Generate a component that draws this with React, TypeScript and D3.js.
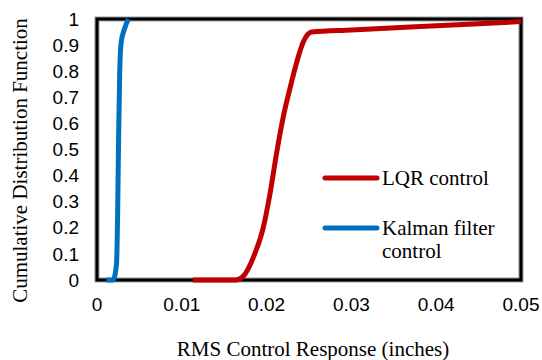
import React, { useEffect, useRef } from 'react';
import * as d3 from 'd3';

// RMS control response (inches) vs cumulative probability
const lqrX = [0.0113, 0.0163, 0.0172, 0.0186, 0.0196, 0.0204, 0.0212, 0.022, 0.0228, 0.0236, 0.0243, 0.0253, 0.03, 0.04, 0.05];
const lqrY = [0, 0, 0.013, 0.1, 0.2, 0.33, 0.49, 0.63, 0.74, 0.84, 0.91, 0.95, 0.958, 0.974, 0.99];

const kalmanX = [0.0011, 0.0019, 0.0023, 0.00244, 0.00255, 0.00268, 0.00285, 0.00322, 0.0037];
const kalmanY = [0, 0, 0.06, 0.27, 0.55, 0.8, 0.91, 0.96, 1.0];

const xTicks = [0, 0.01, 0.02, 0.03, 0.04, 0.05];
const yTicks = [0, 0.1, 0.2, 0.3, 0.4, 0.5, 0.6, 0.7, 0.8, 0.9, 1];

const seriesNames = ['LQR control', 'Kalman filter control'];
const seriesColors = ['#c00000', '#0070c0'];

const width = 542;
const height = 360;
const sans = 'Liberation Sans';
const serif = 'Liberation Serif';

const CdfChart: React.FC = () => {
    const svgRef = useRef<SVGSVGElement | null>(null);

    useEffect(() => {
        const svg = d3.select(svgRef.current);
        svg.selectAll('*').remove();

        const margin = { top: 19, right: 21, bottom: 80, left: 97 };

        const xScale = d3.scaleLinear()
            .domain([0, 0.05])
            .range([margin.left, width - margin.right]);

        const yScale = d3.scaleLinear()
            .domain([0, 1])
            .range([height - margin.bottom, margin.top]);

        // plot frame
        svg.append('rect')
            .attr('x', xScale(0))
            .attr('y', yScale(1))
            .attr('width', xScale(0.05) - xScale(0))
            .attr('height', yScale(0) - yScale(1))
            .attr('fill', 'none')
            .attr('stroke', '#999')
            .attr('stroke-width', 5);
        svg.append('rect')
            .attr('x', xScale(0))
            .attr('y', yScale(1))
            .attr('width', xScale(0.05) - xScale(0))
            .attr('height', yScale(0) - yScale(1))
            .attr('fill', 'none')
            .attr('stroke', '#000')
            .attr('stroke-width', 3);

        // tick labels
        svg.append('g')
            .selectAll('text')
            .data(xTicks)
            .join('text')
            .attr('x', d => xScale(d))
            .attr('y', 311)
            .attr('text-anchor', 'middle')
            .style('font-family', sans)
            .style('font-size', '19px')
            .attr('fill', '#000')
            .text(d => (d === 0 ? '0' : d3.format('.2f')(d)));

        svg.append('g')
            .selectAll('text')
            .data(yTicks)
            .join('text')
            .attr('x', 79)
            .attr('y', d => yScale(d))
            .attr('dy', '0.35em')
            .attr('text-anchor', 'end')
            .style('font-family', sans)
            .style('font-size', '19px')
            .attr('fill', '#000')
            .text(d => (d === 0 || d === 1 ? String(d) : d3.format('.1f')(d)));

        // axis titles
        svg.append('text')
            .attr('x', (xScale(0) + xScale(0.05)) / 2 + 4)
            .attr('y', 356)
            .attr('text-anchor', 'middle')
            .style('font-family', serif)
            .style('font-size', '21px')
            .attr('fill', '#000')
            .text('RMS Control Response (inches)');

        svg.append('text')
            .attr('transform', `translate(27, ${(yScale(0) + yScale(1)) / 2 + 11}) rotate(-90)`)
            .attr('text-anchor', 'middle')
            .style('font-family', serif)
            .style('font-size', '21px')
            .attr('fill', '#000')
            .text('Cumulative Distribution Function');

        const line = d3.line<[number, number]>()
            .x(d => xScale(d[0]))
            .y(d => yScale(d[1]))
            .curve(d3.curveMonotoneX);

        const lqr = lqrX.map((x, i) => [x, lqrY[i]] as [number, number]);
        const kalman = kalmanX.map((x, i) => [x, kalmanY[i]] as [number, number]);

        [lqr, kalman].forEach((pts, i) => {
            svg.append('path')
                .datum(pts)
                .attr('d', line)
                .attr('fill', 'none')
                .attr('stroke', seriesColors[i])
                .attr('stroke-width', 5)
                .attr('stroke-linejoin', 'round');
        });

        // legend
        const legend = svg.append('g');
        const legendY = [178, 228];
        seriesNames.forEach((name, i) => {
            legend.append('line')
                .attr('x1', 325)
                .attr('x2', 377)
                .attr('y1', legendY[i])
                .attr('y2', legendY[i])
                .attr('stroke', seriesColors[i])
                .attr('stroke-width', 5)
                .attr('stroke-linecap', 'round');
            const t = legend.append('text')
                .attr('x', 382)
                .attr('y', legendY[i] + 7)
                .style('font-family', serif)
                .style('font-size', '21px')
                .attr('fill', '#000');
            if (i === 0) {
                t.text(name);
            } else {
                t.append('tspan').attr('x', 382).text('Kalman filter');
                t.append('tspan').attr('x', 382).attr('dy', 23).text('control');
            }
        });
    }, []);

    return (
        <svg ref={svgRef} width={width} height={height}
            style={{ position: 'absolute', left: 0, top: 0, background: '#fff' }}></svg>
    );
};

export default function App() {
    return <CdfChart />;
}
